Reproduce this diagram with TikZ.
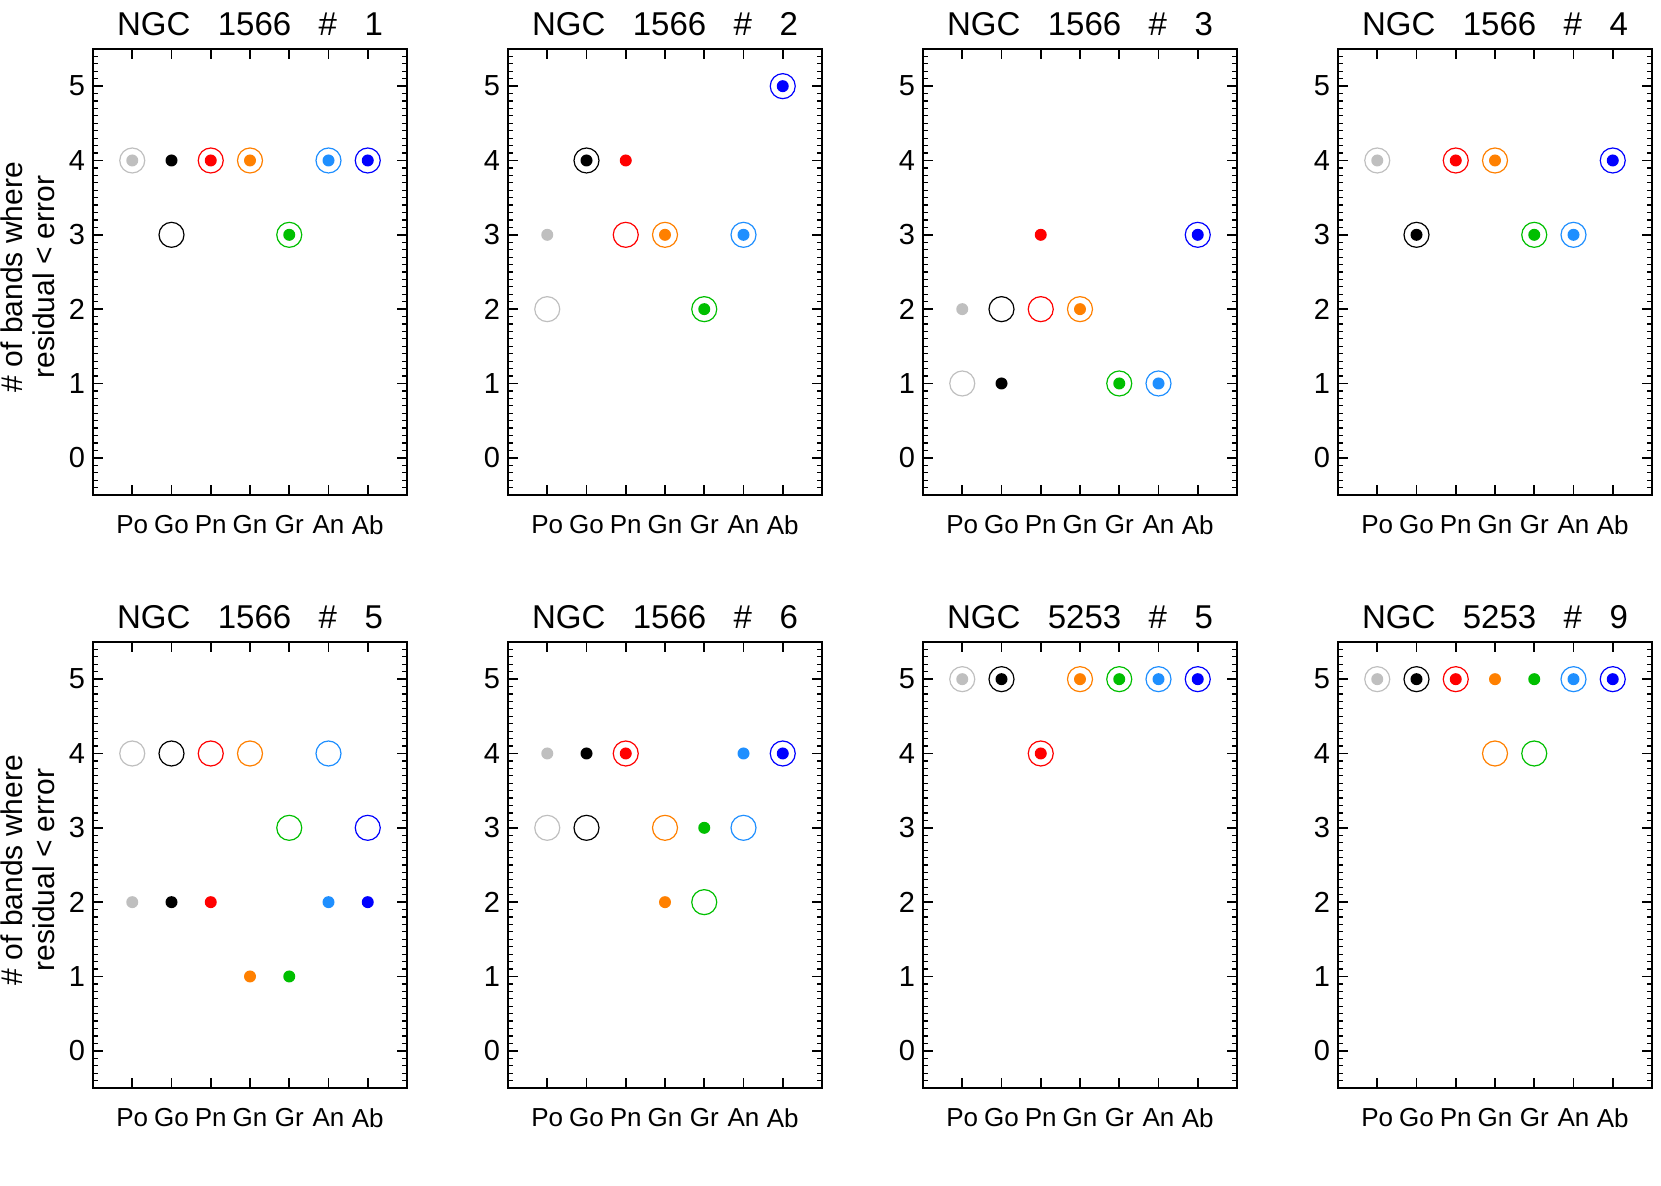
\documentclass[tikz,border=0pt]{standalone}
\usepackage{fontspec}
\setmainfont{Liberation Sans}
\definecolor{cPo}{rgb}{0.75,0.75,0.75}
\definecolor{cGo}{rgb}{0,0,0}
\definecolor{cPn}{rgb}{1,0,0}
\definecolor{cGn}{rgb}{1,0.5,0}
\definecolor{cGr}{rgb}{0,0.75,0}
\definecolor{cAn}{rgb}{0.12,0.56,1}
\definecolor{cAb}{rgb}{0,0,1}
\tikzset{ring/.style={line width=0.6pt}}
\newcommand{\mypanel}[5]{%
 \draw[line width=1pt] (#1,#2) rectangle ++(314,446);
 \foreach \v in {0,...,5}{
   \pgfmathsetmacro{\yy}{#2+74.33*(5.5-\v)}
   \draw[line width=0.8pt] (#1,\yy) -- ++(10,0) (#1+314,\yy) -- ++(-10,0);
   \node[font=\fontsize{14.5}{15}\selectfont,anchor=center] at (#1-16,\yy) {\v};}
 \foreach \k in {0,...,60}{
   \pgfmathsetmacro{\yy}{#2+7.433*\k}
   \draw[line width=0.6pt] (#1,\yy) -- ++(5,0) (#1+314,\yy) -- ++(-5,0);}
 \foreach \n [count=\i] in {Po,Go,Pn,Gn,Gr,An,Ab}{
   \pgfmathsetmacro{\xx}{#1+39.25*\i}
   \draw[line width=0.8pt] (\xx,#2) -- ++(0,10) (\xx,#2+446) -- ++(0,-10);
   \node[font=\fontsize{13}{13}\selectfont] at (\xx,#2+476) {\n};}
 \node[font=\fontsize{16.5}{17}\selectfont] at (#1+157,#2-25) {#3};
 \foreach \v [count=\i] in {#4}{
   \pgfmathsetmacro{\xx}{#1+39.25*\i}
   \pgfmathsetmacro{\yy}{#2+74.33*(5.5-\v)}
   \pgfmathsetmacro{\cn}{{"Po","Go","Pn","Gn","Gr","An","Ab"}[\i-1]}
   \draw[ring,draw=c\cn] (\xx,\yy) circle (12.5);}
 \foreach \v [count=\i] in {#5}{
   \pgfmathsetmacro{\xx}{#1+39.25*\i}
   \pgfmathsetmacro{\yy}{#2+74.33*(5.5-\v)}
   \pgfmathsetmacro{\cn}{{"Po","Go","Pn","Gn","Gr","An","Ab"}[\i-1]}
   \fill[c\cn] (\xx,\yy) circle (6);}
}
\newcommand{\ttl}[2]{NGC\ \ \ #1\ \ \ \#\ \ \ #2}
\begin{document}
\begin{tikzpicture}[x=0.5pt,y=-0.5pt]
\useasboundingbox (0,0) rectangle (1661,1186);
\mypanel{93}{49}{\ttl{1566}{1}}{4,3,4,4,3,4,4}{4,4,4,4,3,4,4}
\mypanel{508}{49}{\ttl{1566}{2}}{2,4,3,3,2,3,5}{3,4,4,3,2,3,5}
\mypanel{923}{49}{\ttl{1566}{3}}{1,2,2,2,1,1,3}{2,1,3,2,1,1,3}
\mypanel{1338}{49}{\ttl{1566}{4}}{4,3,4,4,3,3,4}{4,3,4,4,3,3,4}
\mypanel{93}{642}{\ttl{1566}{5}}{4,4,4,4,3,4,3}{2,2,2,1,1,2,2}
\mypanel{508}{642}{\ttl{1566}{6}}{3,3,4,3,2,3,4}{4,4,4,2,3,4,4}
\mypanel{923}{642}{\ttl{5253}{5}}{5,5,4,5,5,5,5}{5,5,4,5,5,5,5}
\mypanel{1338}{642}{\ttl{5253}{9}}{5,5,5,4,4,5,5}{5,5,5,5,5,5,5}
\foreach \oy in {49,642}{
 \node[rotate=90,align=center,font=\fontsize{15}{16}\selectfont] at (28,\oy+228) {\#\ of\ bands\ where\\residual\ <\ error};}
\end{tikzpicture}
\end{document}
